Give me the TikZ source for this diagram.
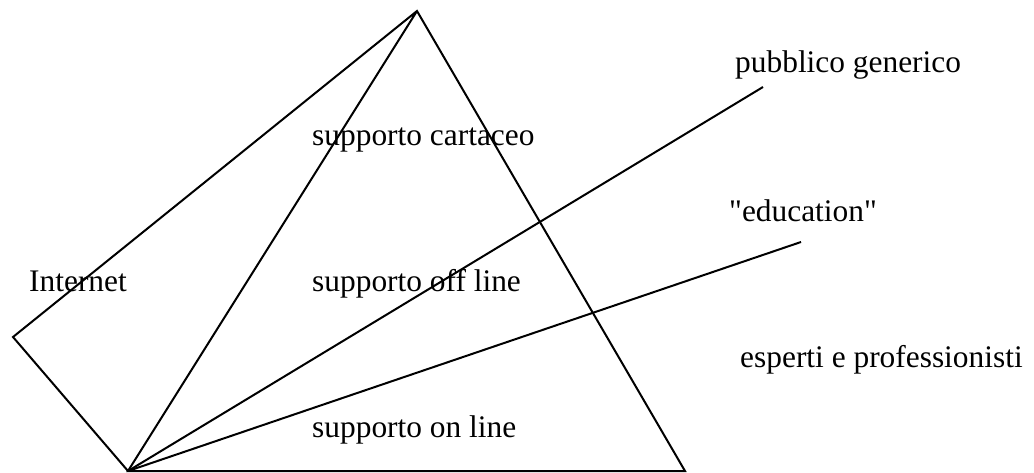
\documentclass[tikz,border=0pt]{standalone}
\usepackage{fontspec}
\setmainfont{Liberation Serif}
\tikzset{
  edge/.style={draw=black, line width=2pt, line join=miter},
  lbl/.style={anchor=base west, inner sep=0pt, font=\fontsize{31.4}{37}\selectfont}
}
\begin{document}
\begin{tikzpicture}[x=1pt,y=-1pt]
\useasboundingbox (0,0) rectangle (1034,472);
\coordinate (A) at (417,11);
\coordinate (L) at (13,337);
\coordinate (B) at (128,471);
\coordinate (R) at (685,471);
\coordinate (P) at (763,87);
\coordinate (E) at (801,242);
\draw[edge] (B) -- (L) -- (A) -- (R) -- (B) -- (A);
\draw[edge] (B) -- (P);
\draw[edge] (B) -- (E);
\node[lbl] (t1) at (312,145) {supporto cartaceo};
\node[lbl] (t2) at (29,291) {Internet};
\node[lbl] (t3) at (312,291) {supporto off line};
\node[lbl] (t4) at (312,437) {supporto on line};
\node[lbl] (t5) at (735,72) {pubblico generico};
\node[lbl] (t6) at (729,221) {\textquotedbl education\textquotedbl};
\node[lbl] (t7) at (740,367) {esperti e professionisti};
\end{tikzpicture}
\end{document}
